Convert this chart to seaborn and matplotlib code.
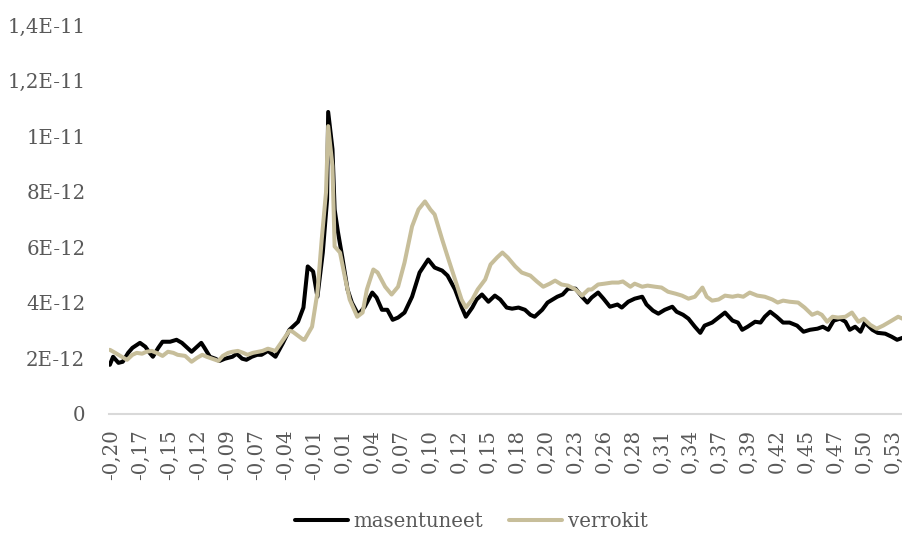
import matplotlib
matplotlib.use("Agg")
import matplotlib.pyplot as plt
import seaborn as sns
import pandas as pd

# Time (s) and amplitude (units of 1E-12) for each group
masentuneet_t = [
    -0.202, -0.199, -0.194, -0.190, -0.185, -0.181, -0.174, -0.169, -0.165, -0.162,
    -0.157, -0.153, -0.146, -0.140, -0.135, -0.130, -0.126, -0.122, -0.117, -0.114,
    -0.109, -0.104, -0.100, -0.095, -0.088, -0.084, -0.079, -0.075, -0.070, -0.065,
    -0.061, -0.055, -0.048, -0.041, -0.035, -0.027, -0.022, -0.018, -0.013, -0.009,
    -0.004, 0.000, 0.001, 0.005, 0.007, 0.010, 0.014, 0.019, 0.023, 0.029,
    0.035, 0.042, 0.046, 0.051, 0.056, 0.061, 0.066, 0.072, 0.079, 0.086,
    0.094, 0.100, 0.107, 0.112, 0.119, 0.125, 0.129, 0.135, 0.139, 0.144,
    0.150, 0.156, 0.161, 0.167, 0.172, 0.178, 0.184, 0.189, 0.193, 0.200,
    0.205, 0.214, 0.219, 0.224, 0.231, 0.237, 0.242, 0.246, 0.252, 0.257,
    0.263, 0.270, 0.274, 0.280, 0.286, 0.293, 0.297, 0.303, 0.308, 0.314,
    0.321, 0.325, 0.331, 0.336, 0.342, 0.347, 0.351, 0.358, 0.364, 0.370,
    0.377, 0.382, 0.386, 0.391, 0.398, 0.403, 0.407, 0.412, 0.418, 0.424,
    0.430, 0.437, 0.443, 0.449, 0.456, 0.461, 0.466, 0.471, 0.477, 0.482,
    0.486, 0.491, 0.496, 0.500, 0.507, 0.512, 0.519, 0.525, 0.530, 0.535,
]
masentuneet_v = [
    1.77, 2.06, 1.84, 1.88, 2.20, 2.38, 2.56, 2.42, 2.20, 2.06,
    2.38, 2.60, 2.60, 2.67, 2.56, 2.38, 2.24, 2.38, 2.56, 2.38,
    2.06, 1.99, 1.91, 1.99, 2.06, 2.17, 1.99, 1.95, 2.06, 2.13,
    2.13, 2.27, 2.06, 2.56, 3.03, 3.32, 3.83, 5.31, 5.13, 4.22,
    5.81, 7.73, 10.87, 9.53, 7.36, 6.57, 5.67, 4.48, 4.01, 3.57,
    3.86, 4.37, 4.19, 3.75, 3.75, 3.39, 3.47, 3.65, 4.22, 5.09,
    5.56, 5.27, 5.16, 4.98, 4.48, 3.86, 3.50, 3.83, 4.12, 4.30,
    4.04, 4.26, 4.12, 3.83, 3.79, 3.83, 3.75, 3.57, 3.50, 3.75,
    4.01, 4.22, 4.30, 4.51, 4.51, 4.22, 4.01, 4.19, 4.37, 4.15,
    3.86, 3.94, 3.83, 4.04, 4.15, 4.22, 3.94, 3.72, 3.61, 3.75,
    3.86, 3.68, 3.57, 3.43, 3.14, 2.92, 3.18, 3.29, 3.47, 3.65,
    3.36, 3.29, 3.03, 3.14, 3.32, 3.29, 3.50, 3.68, 3.50, 3.29,
    3.29, 3.18, 2.96, 3.03, 3.07, 3.14, 3.03, 3.36, 3.43, 3.32,
    3.03, 3.14, 2.96, 3.29, 3.03, 2.92, 2.89, 2.78, 2.67, 2.74,
]

verrokit_t = [
    -0.202, -0.197, -0.191, -0.186, -0.181, -0.177, -0.172, -0.168, -0.163, -0.157,
    -0.153, -0.148, -0.143, -0.139, -0.132, -0.126, -0.121, -0.116, -0.112, -0.107,
    -0.101, -0.097, -0.092, -0.088, -0.083, -0.078, -0.074, -0.069, -0.064, -0.060,
    -0.055, -0.048, -0.039, -0.035, -0.032, -0.022, -0.021, -0.014, -0.009, -0.005,
    -0.001, 0.001, 0.005, 0.007, 0.012, 0.017, 0.021, 0.028, 0.033, 0.037,
    0.043, 0.047, 0.054, 0.060, 0.066, 0.072, 0.079, 0.085, 0.091, 0.096,
    0.100, 0.107, 0.112, 0.119, 0.125, 0.129, 0.135, 0.140, 0.147, 0.152,
    0.158, 0.163, 0.168, 0.175, 0.181, 0.189, 0.195, 0.201, 0.207, 0.212,
    0.218, 0.224, 0.231, 0.237, 0.243, 0.246, 0.252, 0.258, 0.265, 0.271,
    0.275, 0.282, 0.286, 0.293, 0.298, 0.305, 0.311, 0.317, 0.324, 0.330,
    0.336, 0.342, 0.349, 0.353, 0.358, 0.364, 0.370, 0.377, 0.382, 0.387,
    0.393, 0.400, 0.407, 0.414, 0.419, 0.424, 0.430, 0.438, 0.444, 0.451,
    0.456, 0.460, 0.465, 0.470, 0.475, 0.482, 0.488, 0.494, 0.499, 0.505,
    0.511, 0.517, 0.525, 0.531, 0.535,
]
verrokit_v = [
    2.31, 2.20, 2.06, 1.95, 2.13, 2.20, 2.17, 2.24, 2.27, 2.17,
    2.09, 2.24, 2.20, 2.13, 2.09, 1.88, 2.02, 2.13, 2.06, 1.99,
    1.91, 2.09, 2.20, 2.24, 2.27, 2.20, 2.13, 2.20, 2.24, 2.27,
    2.35, 2.27, 2.78, 3.00, 2.96, 2.67, 2.67, 3.14, 4.37, 6.28,
    7.98, 10.36, 8.92, 6.03, 5.81, 4.84, 4.12, 3.50, 3.65, 4.48,
    5.20, 5.09, 4.58, 4.30, 4.58, 5.45, 6.75, 7.36, 7.65, 7.36,
    7.18, 6.28, 5.67, 4.84, 4.12, 3.83, 4.12, 4.48, 4.84, 5.38,
    5.63, 5.81, 5.63, 5.31, 5.09, 4.98, 4.77, 4.58, 4.69, 4.80,
    4.66, 4.62, 4.48, 4.26, 4.48, 4.48, 4.66, 4.69, 4.73, 4.73,
    4.77, 4.58, 4.69, 4.58, 4.62, 4.58, 4.55, 4.40, 4.33, 4.26,
    4.15, 4.22, 4.55, 4.22, 4.08, 4.12, 4.26, 4.22, 4.26, 4.22,
    4.37, 4.26, 4.22, 4.12, 4.01, 4.08, 4.04, 4.01, 3.83, 3.57,
    3.65, 3.57, 3.32, 3.50, 3.47, 3.50, 3.65, 3.32, 3.43, 3.21,
    3.07, 3.18, 3.36, 3.50, 3.43,
]

series_names = ["masentuneet", "verrokit"]
series_colors = ["#000000", "#C7BE9A"]

x_tick_labels = [
    "-0,20", "-0,17", "-0,15", "-0,12", "-0,09", "-0,07", "-0,04", "-0,01",
    "0,01", "0,04", "0,07", "0,10", "0,12", "0,15", "0,18", "0,20", "0,23",
    "0,26", "0,28", "0,31", "0,34", "0,37", "0,39", "0,42", "0,45", "0,47",
    "0,50", "0,53",
]
x_tick_start = -0.2
x_tick_step = 0.0269

y_tick_values = [0, 2e-12, 4e-12, 6e-12, 8e-12, 1e-11, 1.2e-11, 1.4e-11]
y_tick_labels = ["0", "2E-12", "4E-12", "6E-12", "8E-12", "1E-11", "1,2E-11", "1,4E-11"]

scale = 1e-12
df = pd.concat([
    pd.DataFrame({"t": masentuneet_t, "v": [v * scale for v in masentuneet_v],
                  "ryhmä": series_names[0]}),
    pd.DataFrame({"t": verrokit_t, "v": [v * scale for v in verrokit_v],
                  "ryhmä": series_names[1]}),
], ignore_index=True)

sns.set_style("white")
plt.rcParams["font.family"] = ["DejaVu Serif"]
plt.rcParams["lines.solid_joinstyle"] = "round"
plt.rcParams["lines.solid_capstyle"] = "round"

text_color = "#595959"
font_size = 14.2

fig = plt.figure(figsize=(9.03, 5.33), dpi=100)
ax = fig.add_axes([0.1207, 0.2233, 0.8793, 0.7298])

sns.lineplot(data=df, x="t", y="v", hue="ryhmä", hue_order=series_names,
             palette=dict(zip(series_names, series_colors)),
             estimator=None, sort=True, linewidth=2.9, ax=ax)

ax.set_xlim(-0.2028, 0.5355)
ax.set_ylim(0, 1.4e-11)

ax.set_xticks([x_tick_start + i * x_tick_step for i in range(len(x_tick_labels))])
ax.set_xticklabels(x_tick_labels, rotation=90)
ax.set_yticks(y_tick_values)
ax.set_yticklabels(y_tick_labels)

ax.tick_params(axis="x", length=0, pad=11, labelsize=font_size, labelcolor=text_color)
ax.tick_params(axis="y", length=0, pad=17, labelsize=font_size, labelcolor=text_color)

ax.set_xlabel("")
ax.set_ylabel("")
for side in ["top", "right", "left"]:
    ax.spines[side].set_visible(False)
ax.spines["bottom"].set_color("#D9D9D9")
ax.spines["bottom"].set_linewidth(1.5)
ax.grid(False)

handles, labels = ax.get_legend_handles_labels()
ax.legend_.remove()
fig.legend(handles, labels, loc="center", bbox_to_anchor=(0.522, 0.022),
           ncol=2, frameon=False, fontsize=font_size, handlelength=2.7,
           handletextpad=0.3, columnspacing=1.3, labelcolor=text_color)

fig.savefig("out.png", dpi=100)
